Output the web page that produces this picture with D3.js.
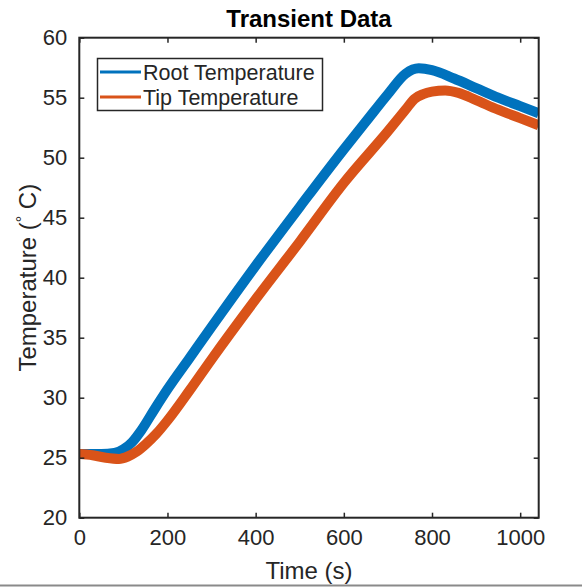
<!DOCTYPE html>
<html>
<head>
<meta charset="utf-8">
<script src="https://cdn.jsdelivr.net/npm/d3@7"></script>
<style>
  body { margin: 0; background: #fff; }
  svg { display: block; }
  text { font-family: "Liberation Sans", Arial, Helvetica, sans-serif; fill: #262626; }
</style>
</head>
<body>
<svg id="chart" width="582" height="588"></svg>
<script>
// time (s) and temperature (deg C)
const rootTime = [0, 50, 80, 100, 120, 141, 170, 200, 250, 300, 400, 500, 600, 650, 700, 740, 770, 800, 850, 900, 950, 1000, 1042]
const rootTemp = [25.3, 25.3, 25.4, 25.7, 26.3, 27.3, 29.0, 30.7, 33.3, 35.9, 41.0, 45.9, 50.7, 53.0, 55.3, 57.0, 57.45, 57.3, 56.6, 55.8, 55.0, 54.3, 53.7]

const tipTime = [0, 30, 60, 90, 110, 130, 150, 175, 200, 250, 300, 400, 500, 600, 700, 740, 760, 780, 800, 830, 860, 900, 950, 1000, 1042]
const tipTemp = [25.3, 25.2, 25.0, 24.9, 25.1, 25.5, 26.1, 27.0, 28.1, 30.6, 33.2, 38.2, 43.0, 47.9, 52.2, 54.0, 54.9, 55.3, 55.5, 55.6, 55.4, 54.8, 54.0, 53.3, 52.7]

const seriesNames = ['Root Temperature', 'Tip Temperature']
const seriesColors = ['#0072BD', '#D95319']

const xTicks = [0, 200, 400, 600, 800, 1000]
const yTicks = [20, 25, 30, 35, 40, 45, 50, 55, 60]

const margin = { left: 79.3, right: 538.7, top: 37.7, bottom: 517.7 }
const TICK_LEN = 5
const AXIS_COLOR = '#262626'

const svg = d3.select('#chart')

const x = d3.scaleLinear().domain([0, 1042]).range([margin.left, margin.right])
const y = d3.scaleLinear().domain([20, 60]).range([margin.bottom, margin.top])

const series = [
  { name: seriesNames[0], color: seriesColors[0], points: rootTime.map((t, i) => [t, rootTemp[i]]) },
  { name: seriesNames[1], color: seriesColors[1], points: tipTime.map((t, i) => [t, tipTemp[i]]) }
]

svg.append('defs').append('clipPath').attr('id', 'plotClip')
  .append('rect')
  .attr('x', margin.left)
  .attr('y', margin.top)
  .attr('width', margin.right - margin.left)
  .attr('height', margin.bottom - margin.top)

const line = d3.line()
  .x((d) => x(d[0]))
  .y((d) => y(d[1]))
  .curve(d3.curveMonotoneX)

svg.append('g')
  .attr('clip-path', 'url(#plotClip)')
  .selectAll('path')
  .data(series)
  .enter()
  .append('path')
  .attr('d', (d) => line(d.points))
  .attr('fill', 'none')
  .attr('stroke', (d) => d.color)
  .attr('stroke-width', 10)
  .attr('stroke-linejoin', 'round')
  .attr('stroke-linecap', 'butt')

// axes, MATLAB style: ticks inward on all four sides
const axisStyle = (g) => {
  g.select('.domain').remove()
  g.selectAll('.tick line').attr('stroke', AXIS_COLOR).attr('stroke-width', 1.5)
  g.selectAll('.tick text').style('font-size', '22px').attr('fill', AXIS_COLOR)
}

svg.append('g')
  .attr('transform', `translate(0,${margin.bottom})`)
  .call(d3.axisBottom(x).tickValues(xTicks).tickSize(-TICK_LEN).tickPadding(12).tickFormat(d3.format('d')))
  .call(axisStyle)

svg.append('g')
  .attr('transform', `translate(0,${margin.top})`)
  .call(d3.axisTop(x).tickValues(xTicks).tickSize(-TICK_LEN).tickFormat(''))
  .call(axisStyle)

svg.append('g')
  .attr('transform', `translate(${margin.left},0)`)
  .call(d3.axisLeft(y).tickValues(yTicks).tickSize(-TICK_LEN).tickPadding(12))
  .call(axisStyle)

svg.append('g')
  .attr('transform', `translate(${margin.right},0)`)
  .call(d3.axisRight(y).tickValues(yTicks).tickSize(-TICK_LEN).tickFormat(''))
  .call(axisStyle)

svg.selectAll('g text').attr('font-family', null)

svg.append('rect')
  .attr('x', margin.left)
  .attr('y', margin.top)
  .attr('width', margin.right - margin.left)
  .attr('height', margin.bottom - margin.top)
  .attr('fill', 'none')
  .attr('stroke', AXIS_COLOR)
  .attr('stroke-width', 2)

// title and labels
svg.append('text')
  .attr('x', (margin.left + margin.right) / 2)
  .attr('y', 27)
  .attr('text-anchor', 'middle')
  .style('font-size', '24px')
  .style('font-weight', 'bold')
  .style('fill', '#000')
  .text('Transient Data')

svg.append('text')
  .attr('x', (margin.left + margin.right) / 2)
  .attr('y', 579)
  .attr('text-anchor', 'middle')
  .style('font-size', '24px')
  .text('Time (s)')

const yLabel = svg.append('text')
  .attr('transform', `translate(36,${(margin.top + margin.bottom) / 2}) rotate(-90)`)
  .attr('text-anchor', 'middle')
  .style('font-size', '24px')
yLabel.append('tspan').text('Temperature (')
yLabel.append('tspan').style('font-size', '16px').attr('dy', -8).text('\u00B0')
yLabel.append('tspan').attr('dy', 8).text(' C)')

// legend
const legend = svg.append('g')
legend.append('rect')
  .attr('x', 97.5)
  .attr('y', 58.5)
  .attr('width', 225)
  .attr('height', 52)
  .attr('fill', '#fff')
  .attr('stroke', AXIS_COLOR)
  .attr('stroke-width', 1.5)

const items = legend.selectAll('g.item')
  .data(series)
  .enter()
  .append('g')
  .attr('class', 'item')
  .attr('transform', (d, i) => `translate(0,${72 + i * 25})`)
items.append('line')
  .attr('x1', 100)
  .attr('x2', 141)
  .attr('stroke', (d) => d.color)
  .attr('stroke-width', 3)
items.append('text')
  .attr('x', 143)
  .attr('dy', '0.36em')
  .style('font-size', '21.5px')
  .text((d) => d.name)

// screenshot edge line at the bottom
svg.append('line')
  .attr('x1', 0)
  .attr('x2', 582)
  .attr('y1', 585.5)
  .attr('y2', 585.5)
  .attr('stroke', '#8a8a8a')
  .attr('stroke-width', 2)
</script>
</body>
</html>
